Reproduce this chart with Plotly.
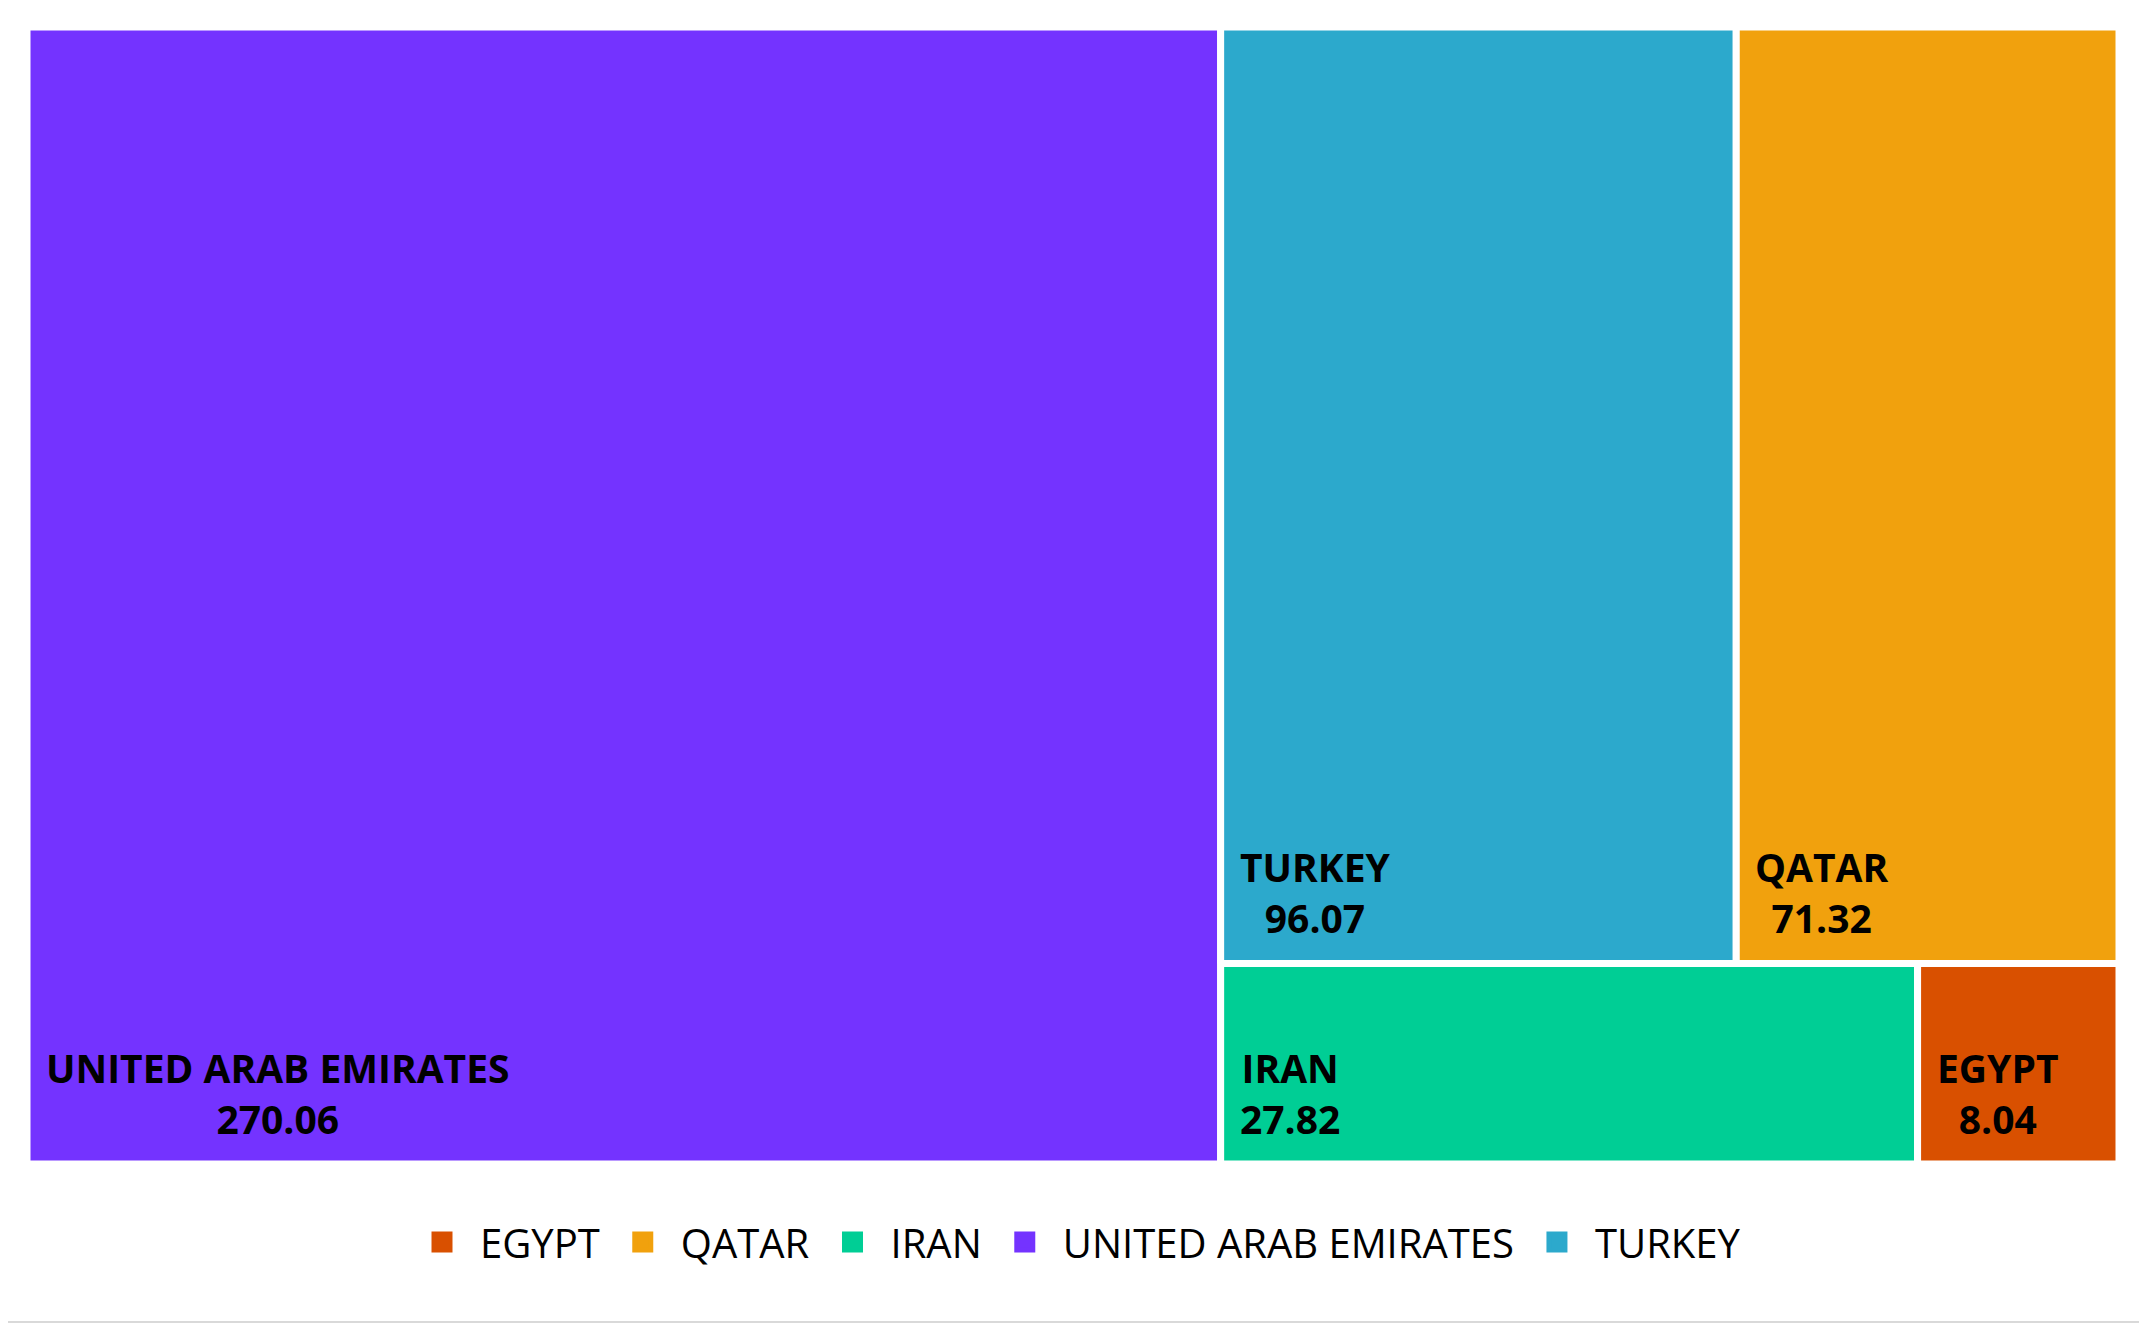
import plotly.graph_objects as go

# ---- data ----
countries = ["UNITED ARAB EMIRATES", "TURKEY", "QATAR", "IRAN", "EGYPT"]
values = [270.06, 96.07, 71.32, 27.82, 8.04]
colors = ["#7433FF", "#2CA9CC", "#F1A10D", "#00CE95", "#D95000"]
legend_order = ["EGYPT", "QATAR", "IRAN", "UNITED ARAB EMIRATES", "TURKEY"]

# tiling groups (columns -> rows -> items), as the Excel treemap arranges them
columns = [
    [["UNITED ARAB EMIRATES"]],
    [["TURKEY", "QATAR"], ["IRAN", "EGYPT"]],
]

val = dict(zip(countries, values))
col = dict(zip(countries, colors))

# ---- compute rectangles (unit square, y=1 at top) from the values ----
total = sum(values)
rects = {}
x_cursor = 0.0
for column in columns:
    csum = sum(val[c] for row in column for c in row)
    cw = csum / total
    y_cursor = 1.0
    for row in column:
        rsum = sum(val[c] for c in row)
        rh = rsum / csum
        xx = x_cursor
        for c in row:
            w = cw * val[c] / rsum
            rects[c] = (xx, xx + w, y_cursor - rh, y_cursor)
            xx += w
        y_cursor -= rh
    x_cursor += cw

fig = go.Figure()
FONT = "Open Sans"

for c in countries:
    x0, x1, y0, y1 = rects[c]
    fig.add_trace(go.Scatter(
        x=[x0, x1, x1, x0, x0], y=[y0, y0, y1, y1, y0],
        mode="lines", fill="toself", fillcolor=col[c],
        line=dict(color="white", width=7),
        name=c, showlegend=False, hoverinfo="text",
        text=f"{c}: {val[c]:.2f}",
    ))
    fig.add_annotation(
        x=x0, y=y0, xref="x", yref="y",
        xanchor="left", yanchor="bottom", xshift=17, yshift=17,
        text=f"{c}<br>{val[c]:.2f}", align="center", showarrow=False,
        font=dict(family=FONT, size=39, color="black", weight=700),
    )

# legend-only traces
for c in legend_order:
    fig.add_trace(go.Scatter(
        x=[None], y=[None], mode="markers", name=c,
        marker=dict(symbol="square", size=16, color=col[c],
                    line=dict(color=col[c], width=5)),
        showlegend=True,
    ))

W, H = 2147, 1323
OFF = 8  # page body margin of the html page
L, R, T, B = 27 - OFF, 28 + OFF, 27 - OFF, 159 + OFF
pw = W - L - R
ph = H - T - B

# outer light-grey border of the chart (right/bottom edges visible in the window)
fig.add_shape(type="rect", xref="paper", yref="paper",
              x0=(1 - OFF - L) / pw, x1=(W - 1 - OFF - L) / pw,
              y0=-(H - 1 - OFF - T - ph) / ph, y1=1 + (T + OFF - 1) / ph,
              line=dict(color="#D9D9D9", width=2), fillcolor="rgba(0,0,0,0)")

fig.update_layout(
    width=W, height=H,
    margin=dict(l=L, r=R, t=T, b=B),
    paper_bgcolor="white", plot_bgcolor="white",
    xaxis=dict(range=[0, 1], visible=False, fixedrange=True),
    yaxis=dict(range=[0, 1], visible=False, fixedrange=True),
    showlegend=True,
    legend=dict(
        orientation="h", x=(1075 - OFF - L) / pw, xanchor="center",
        y=-(1242 - OFF - (T + ph)) / ph, yanchor="middle",
        font=dict(family=FONT, size=40, color="black"),
        itemwidth=66, traceorder="normal",
        bgcolor="rgba(0,0,0,0)",
    ),
    hovermode="closest",
)

fig.write_html("out.html")
